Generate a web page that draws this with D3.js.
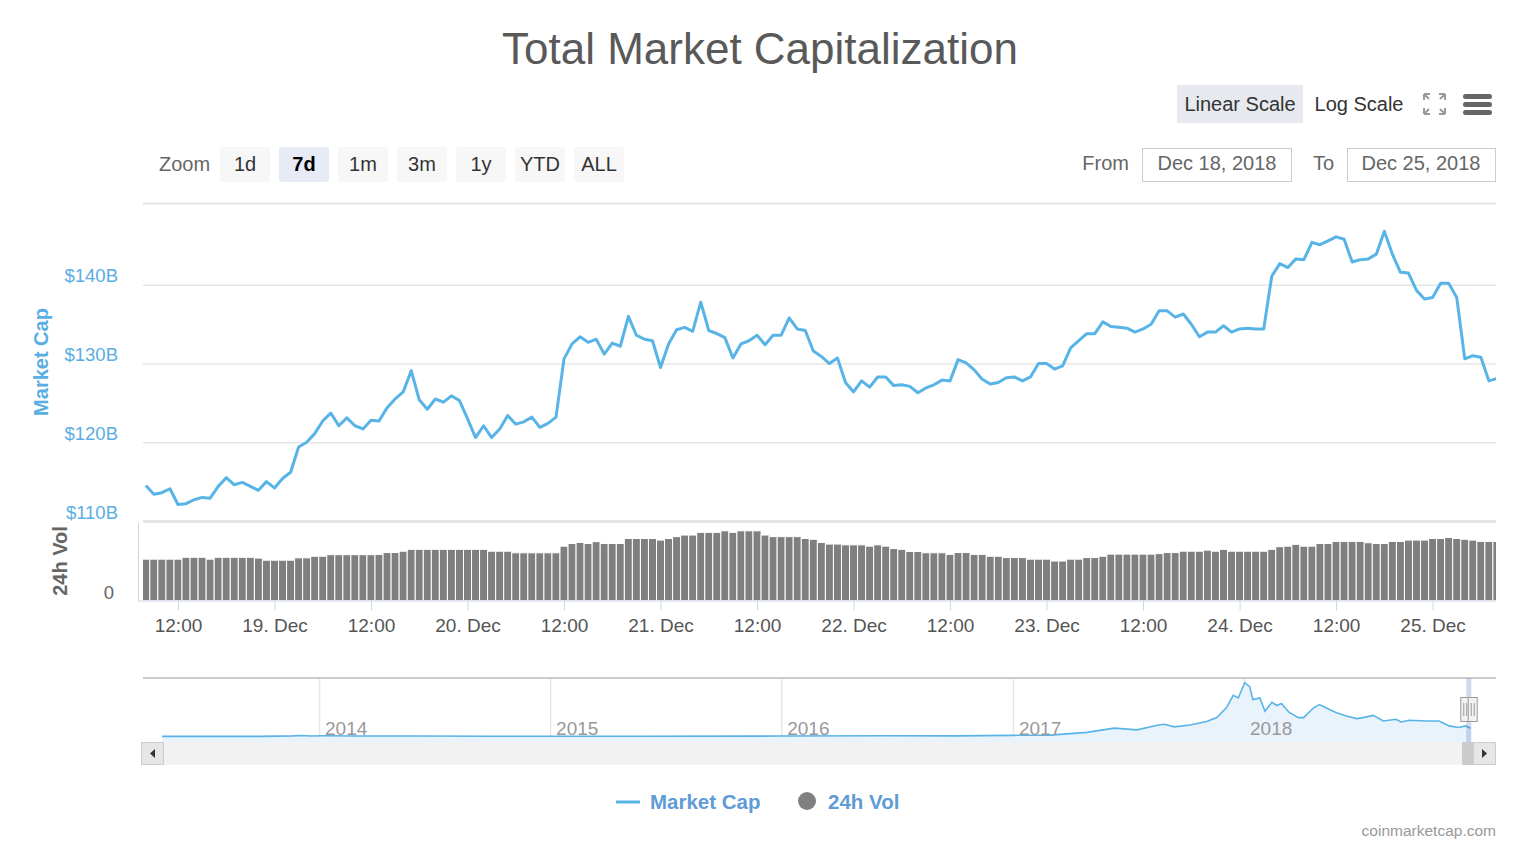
<!DOCTYPE html>
<html>
<head>
<meta charset="utf-8">
<script src="https://cdn.jsdelivr.net/npm/d3@7"></script>
<style>
  body { margin: 0; background: #fff; }
  svg text { font-family: "Liberation Sans", Arial, sans-serif; }
</style>
</head>
<body>
<div id="chart"></div>
<script>
// hourly series, first point Dec 18 2018 08:00 UTC
const seriesStart = Date.UTC(2018, 11, 18, 8);

// market cap, $B
const marketCap = [
  114.5, 113.4, 113.6, 114.1, 112.1, 112.2, 112.7, 113.0, 112.9, 114.4,
  115.5, 114.6, 114.9, 114.4, 113.9, 115.0, 114.2, 115.4, 116.2, 119.4,
  120.0, 121.1, 122.7, 123.7, 122.1, 123.1, 122.1, 121.7, 122.8, 122.7,
  124.4, 125.5, 126.4, 129.1, 125.4, 124.2, 125.5, 125.1, 125.9, 125.3,
  123.0, 120.6, 122.1, 120.6, 121.7, 123.4, 122.3, 122.6, 123.2, 121.9,
  122.4, 123.2, 130.6, 132.5, 133.4, 132.7, 133.1, 131.2, 132.6, 132.2,
  136.0, 133.6, 133.1, 132.9, 129.5, 132.5, 134.3, 134.6, 134.1, 137.8,
  134.2, 133.8, 133.3, 130.7, 132.5, 132.9, 133.6, 132.4, 133.6, 133.6,
  135.8, 134.4, 134.2, 131.6, 130.9, 130.0, 130.7, 127.6, 126.4, 127.8,
  127.0, 128.3, 128.3, 127.2, 127.3, 127.1, 126.3, 126.9, 127.3, 127.9,
  127.8, 130.5, 130.1, 129.2, 128.0, 127.4, 127.6, 128.2, 128.3, 127.8,
  128.3, 130.0, 130.0, 129.3, 129.7, 132.0, 132.9, 133.8, 133.8, 135.3,
  134.7, 134.6, 134.5, 134.0, 134.4, 135.0, 136.7, 136.7, 135.9, 136.3,
  135.0, 133.4, 134.0, 134.0, 134.8, 134.0, 134.4, 134.5, 134.4, 134.4,
  141.1, 142.7, 142.2, 143.3, 143.2, 145.4, 145.1, 145.6, 146.1, 145.8,
  142.9, 143.2, 143.3, 143.9, 146.8, 143.9, 141.6, 141.5, 139.3, 138.2,
  138.4, 140.2, 140.2, 138.4, 130.6, 131.0, 130.8, 127.8, 128.1
];

// 24h volume, $B
const volume24h = [
  15.6, 15.6, 15.6, 15.6, 15.6, 16.3, 16.3, 16.3, 15.6, 16.3,
  16.3, 16.3, 16.3, 16.3, 16.0, 15.2, 15.2, 15.2, 15.2, 16.1,
  16.1, 16.7, 16.7, 17.3, 17.3, 17.3, 17.3, 17.3, 17.3, 17.4,
  18.1, 18.1, 18.6, 19.3, 19.3, 19.3, 19.3, 19.3, 19.3, 19.3,
  19.3, 19.3, 19.3, 18.6, 18.6, 18.6, 18.0, 18.0, 18.0, 18.0,
  18.0, 18.0, 20.5, 21.5, 21.9, 21.5, 22.2, 21.5, 21.5, 21.5,
  23.4, 23.4, 23.4, 23.4, 22.8, 23.4, 24.1, 24.7, 24.7, 25.7,
  25.7, 25.7, 26.3, 25.7, 26.3, 26.3, 26.3, 24.7, 24.1, 24.1,
  24.1, 24.1, 23.4, 23.1, 21.9, 21.3, 21.3, 21.0, 21.0, 21.0,
  20.5, 21.0, 20.5, 19.6, 19.3, 18.5, 18.5, 18.0, 18.0, 18.0,
  17.4, 18.1, 18.1, 17.4, 17.4, 16.7, 16.7, 16.2, 16.2, 16.2,
  15.6, 15.6, 15.6, 14.9, 14.9, 15.6, 15.6, 16.2, 16.2, 16.7,
  17.5, 17.5, 17.5, 17.5, 17.5, 17.5, 17.7, 18.1, 18.1, 18.6,
  18.6, 18.6, 19.0, 18.6, 19.3, 18.6, 18.6, 18.6, 18.6, 18.6,
  19.3, 20.3, 20.5, 21.2, 20.5, 20.5, 21.5, 21.5, 22.3, 22.3,
  22.3, 22.3, 21.8, 21.5, 21.5, 22.3, 22.3, 22.8, 22.8, 22.8,
  23.4, 23.4, 23.8, 23.4, 23.1, 22.8, 22.3, 22.3, 22.3
];

const capTicks = [110, 120, 130, 140];

// navigator history (whole range), $B
const navDates = [
  "2013-04-28", "2013-10-01", "2013-11-20", "2013-12-04", "2013-12-20",
  "2014-01-10", "2014-03-01", "2014-06-01", "2014-10-01", "2015-01-15",
  "2015-06-01", "2015-11-05", "2016-01-01", "2016-06-15", "2016-10-01",
  "2017-01-01", "2017-03-01", "2017-04-28", "2017-06-10", "2017-07-16",
  "2017-08-17", "2017-08-28", "2017-09-13", "2017-10-08", "2017-11-03",
  "2017-11-19", "2017-12-04", "2017-12-15", "2017-12-23", "2018-01-02",
  "2018-01-10", "2018-01-15", "2018-01-26", "2018-02-03", "2018-02-14",
  "2018-02-22", "2018-03-01", "2018-03-13", "2018-03-28", "2018-04-05",
  "2018-04-21", "2018-04-30", "2018-05-16", "2018-05-27", "2018-06-12",
  "2018-06-28", "2018-07-08", "2018-07-24", "2018-08-09", "2018-08-29",
  "2018-09-06", "2018-09-19", "2018-10-16", "2018-11-05", "2018-11-21",
  "2018-12-06", "2018-12-17", "2018-12-25"
];
const navValues = [
  1.5, 2, 9, 15, 8,
  11, 8, 8, 5, 3,
  3.3, 6, 7, 12, 10,
  18, 22, 64, 130, 104,
  176, 191, 150, 180, 233,
  294, 447, 640, 600, 838,
  777, 574, 600, 395, 532,
  482, 513, 379, 294, 294,
  447, 497, 421, 370, 318,
  278, 294, 329, 242, 268,
  226, 252, 242, 242, 165,
  141, 165, 128
];

const zoomButtons = ["1d", "7d", "1m", "3m", "1y", "YTD", "ALL"];
const selectedZoom = "7d";
const fromLabel = "Dec 18, 2018";
const toLabel = "Dec 25, 2018";

const W = 1516, H = 848;
const plotLeft = 143, plotRight = 1496, plotTop = 203;
const capBottom = 521, volBottom = 600.5;
const navTop = 678, navBottom = 742;
const lineColor = "#58b4e6";

const hour = 3600 * 1000;
const capData = marketCap.map((v, i) => ({ date: new Date(seriesStart + i * hour), value: v }));
const volData = volume24h.map((v, i) => ({ date: new Date(seriesStart + i * hour), value: v }));
const navData = navDates.map((d, i) => ({ date: new Date(d + "T00:00:00Z"), value: navValues[i] }));

const svg = d3.select("#chart").append("svg")
  .attr("width", W).attr("height", H);

const x = d3.scaleUtc()
  .domain([new Date(Date.UTC(2018, 11, 18, 7, 39)), new Date(Date.UTC(2018, 11, 25, 7, 53))])
  .range([plotLeft, plotRight]);
const yCap = d3.scaleLinear().domain([110, 150.4]).range([capBottom, plotTop]);
const yVol = d3.scaleLinear().domain([0, 30]).range([volBottom, capBottom]);

// title
svg.append("text")
  .attr("x", 760).attr("y", 64)
  .attr("text-anchor", "middle")
  .attr("font-size", 44).attr("fill", "#595959")
  .text("Total Market Capitalization");

// scale buttons + icons
svg.append("rect").attr("x", 1177).attr("y", 85).attr("width", 126).attr("height", 38)
  .attr("rx", 2).attr("fill", "#e6e9ee");
svg.append("text").attr("x", 1240).attr("y", 111).attr("text-anchor", "middle")
  .attr("font-size", 20).attr("fill", "#333").text("Linear Scale");
svg.append("text").attr("x", 1359).attr("y", 111).attr("text-anchor", "middle")
  .attr("font-size", 20).attr("fill", "#333").text("Log Scale");

const fs = svg.append("g").attr("stroke", "#9a9a9a").attr("stroke-width", 2).attr("fill", "none");
fs.append("path").attr("d", "M1424,94 L1430,94 M1424,94 L1424,100 M1424,94 L1429,99");
fs.append("path").attr("d", "M1445,94 L1439,94 M1445,94 L1445,100 M1445,94 L1440,99");
fs.append("path").attr("d", "M1424,114 L1430,114 M1424,114 L1424,108 M1424,114 L1429,109");
fs.append("path").attr("d", "M1445,114 L1439,114 M1445,114 L1445,108 M1445,114 L1440,109");

svg.append("g").selectAll("rect").data([94, 102, 110]).join("rect")
  .attr("x", 1463).attr("y", d => d).attr("width", 29).attr("height", 5)
  .attr("rx", 2.5).attr("fill", "#666");

// zoom buttons
svg.append("text").attr("x", 159).attr("y", 171)
  .attr("font-size", 20).attr("fill", "#666").text("Zoom");
const zb = svg.append("g").selectAll("g").data(zoomButtons).join("g")
  .attr("transform", (d, i) => `translate(${220 + i * 59},147)`);
zb.append("rect").attr("width", 50).attr("height", 35).attr("rx", 2)
  .attr("fill", d => d === selectedZoom ? "#e6ebf5" : "#f7f7f7");
zb.append("text").attr("x", 25).attr("y", 24).attr("text-anchor", "middle")
  .attr("font-size", 20)
  .attr("font-weight", d => d === selectedZoom ? "bold" : "normal")
  .attr("fill", d => d === selectedZoom ? "#000" : "#333")
  .text(d => d);

// range inputs
svg.append("text").attr("x", 1129).attr("y", 170).attr("text-anchor", "end")
  .attr("font-size", 20).attr("fill", "#666").text("From");
svg.append("rect").attr("x", 1142.5).attr("y", 148.5).attr("width", 149).attr("height", 33)
  .attr("fill", "#fff").attr("stroke", "#ccc");
svg.append("text").attr("x", 1217).attr("y", 170).attr("text-anchor", "middle")
  .attr("font-size", 20).attr("fill", "#666").text(fromLabel);
svg.append("text").attr("x", 1334).attr("y", 170).attr("text-anchor", "end")
  .attr("font-size", 20).attr("fill", "#666").text("To");
svg.append("rect").attr("x", 1347.5).attr("y", 148.5).attr("width", 148).attr("height", 33)
  .attr("fill", "#fff").attr("stroke", "#ccc");
svg.append("text").attr("x", 1421).attr("y", 170).attr("text-anchor", "middle")
  .attr("font-size", 20).attr("fill", "#666").text(toLabel);

// top border of plot
svg.append("line").attr("x1", plotLeft).attr("x2", plotRight)
  .attr("y1", plotTop + 0.5).attr("y2", plotTop + 0.5)
  .attr("stroke", "#e6e6e6").attr("stroke-width", 2);

// gridlines
svg.append("g")
  .attr("transform", `translate(${plotLeft},0)`)
  .call(d3.axisLeft(yCap).tickValues(capTicks).tickSize(-(plotRight - plotLeft)).tickFormat(""))
  .call(g => g.select(".domain").remove())
  .call(g => g.selectAll("line").attr("stroke", "#e6e6e6").attr("stroke-width", d => d === 110 ? 3 : 1.5));

// y labels
svg.append("g")
  .attr("transform", `translate(${plotLeft},0)`)
  .call(d3.axisLeft(yCap).tickValues(capTicks).tickSize(0).tickPadding(25).tickFormat(d => `$${d}B`))
  .call(g => g.select(".domain").remove())
  .call(g => g.selectAll("text").attr("dy", "-3px").attr("font-size", 18.5)
    .attr("fill", "#5aaee3").attr("font-family", null));

svg.append("text")
  .attr("transform", "translate(48,362) rotate(-90)")
  .attr("text-anchor", "middle").attr("font-size", 20).attr("font-weight", "bold")
  .attr("fill", "#5aaee3").text("Market Cap");

// volume bars
const barW = x(new Date(seriesStart + hour)) - x(new Date(seriesStart));
svg.append("clipPath").attr("id", "clip")
  .append("rect").attr("x", plotLeft).attr("y", plotTop)
  .attr("width", plotRight - plotLeft).attr("height", volBottom - plotTop);

svg.append("g").attr("clip-path", "url(#clip)")
  .selectAll("rect").data(volData).join("rect")
  .attr("x", d => x(d.date) - barW / 2)
  .attr("y", d => yVol(d.value))
  .attr("width", barW)
  .attr("height", d => volBottom - yVol(d.value))
  .attr("fill", "#7f7f7f")
  .attr("stroke", "#fff").attr("stroke-width", 1);

// volume axis
svg.append("line").attr("x1", 138.5).attr("x2", 138.5).attr("y1", 523).attr("y2", volBottom)
  .attr("stroke", "#ccd6eb");
svg.append("g")
  .attr("transform", "translate(138,0)")
  .call(d3.axisLeft(yVol).tickValues([0]).tickSize(0).tickPadding(24))
  .call(g => g.select(".domain").remove())
  .call(g => g.selectAll("text").attr("dy", "-2px").attr("font-size", 18.5)
    .attr("fill", "#666").attr("font-family", null));

svg.append("text")
  .attr("transform", "translate(67,561) rotate(-90)")
  .attr("text-anchor", "middle").attr("font-size", 20).attr("font-weight", "bold")
  .attr("fill", "#666").text("24h Vol");

// market cap line
const line = d3.line().x(d => x(d.date)).y(d => yCap(d.value));
svg.append("path").datum(capData)
  .attr("clip-path", "url(#clip)")
  .attr("fill", "none").attr("stroke", lineColor)
  .attr("stroke-width", 3).attr("stroke-linejoin", "round")
  .attr("d", line);

// x axis
const fmtDay = d3.utcFormat("%-d. %b"), fmtHour = d3.utcFormat("%H:%M");
svg.append("g")
  .attr("transform", `translate(0,${volBottom})`)
  .call(d3.axisBottom(x).ticks(d3.utcHour.every(12)).tickSize(10).tickPadding(8)
    .tickFormat(d => d.getUTCHours() === 0 ? fmtDay(d) : fmtHour(d)))
  .call(g => g.select(".domain").attr("stroke", "#ccd6eb").attr("d", `M138,0.5H${plotRight}`))
  .call(g => g.selectAll(".tick line").attr("stroke", "#ccd6eb"))
  .call(g => g.selectAll("text").attr("font-size", 19).attr("fill", "#555").attr("font-family", null));

// navigator
const navX = d3.scaleUtc()
  .domain([new Date("2013-04-28T00:00:00Z"), new Date("2018-12-25T00:00:00Z")])
  .range([162, 1470.7]);
const navY = d3.scaleLinear().domain([0, 850]).range([736.5, 681.9]);

svg.append("g")
  .attr("transform", `translate(0,${navBottom})`)
  .call(d3.axisBottom(navX).ticks(d3.utcYear.every(1)).tickSize(-(navBottom - navTop)).tickFormat(""))
  .call(g => g.select(".domain").remove())
  .call(g => g.selectAll("line").attr("stroke", "#e6e6e6").attr("stroke-width", 1.5));

svg.append("path").datum(navData)
  .attr("fill", "#e9f3fc")
  .attr("d", d3.area().x(d => navX(d.date)).y0(navBottom).y1(d => navY(d.value)));
svg.append("path").datum(navData)
  .attr("fill", "none").attr("stroke", lineColor).attr("stroke-width", 1.6)
  .attr("d", d3.line().x(d => navX(d.date)).y(d => navY(d.value)));

svg.append("g").selectAll("text").data(navX.ticks(d3.utcYear.every(1))).join("text")
  .attr("x", d => navX(d) + 6).attr("y", 735)
  .attr("font-size", 19).attr("fill", "#999")
  .text(d => d.getUTCFullYear());

svg.append("line").attr("x1", plotLeft).attr("x2", plotRight)
  .attr("y1", navTop).attr("y2", navTop)
  .attr("stroke", "#cccccc").attr("stroke-width", 2);

// scrollbar
svg.append("rect").attr("x", 141).attr("y", navBottom).attr("width", 1355).attr("height", 23)
  .attr("fill", "#f2f2f2");
svg.append("rect").attr("x", 141.5).attr("y", navBottom + 0.5).attr("width", 22).attr("height", 22)
  .attr("fill", "#e6e6e6").attr("stroke", "#cccccc");
svg.append("path").attr("d", "M155,749 L150,753.5 L155,758 Z").attr("fill", "#333");
svg.append("rect").attr("x", 1473.5).attr("y", navBottom + 0.5).attr("width", 22).attr("height", 22)
  .attr("fill", "#e6e6e6").attr("stroke", "#cccccc");
svg.append("path").attr("d", "M1482,749 L1487,753.5 L1482,758 Z").attr("fill", "#333");
svg.append("rect").attr("x", 1462).attr("y", navBottom).attr("width", 11).attr("height", 23)
  .attr("fill", "#cccccc");

// selected range mask + handles
const selX0 = navX(new Date("2018-12-18T00:00:00Z")), selX1 = navX(new Date("2018-12-25T00:00:00Z"));
svg.append("rect").attr("x", selX0).attr("y", navTop).attr("width", Math.max(selX1 - selX0, 5))
  .attr("height", navBottom - navTop).attr("fill", "rgba(102,133,194,0.3)");
const handles = svg.append("g");
[selX0 - 6, selX1 - 3].forEach(hx => {
  handles.append("rect").attr("x", hx + 0.5).attr("y", 697.5).attr("width", 9).attr("height", 24)
    .attr("fill", "#f2f2f2").attr("stroke", "#999");
  handles.append("path").attr("d", `M${hx + 3.5},703V716M${hx + 6.5},703V716`)
    .attr("stroke", "#999").attr("stroke-width", 1);
});

// legend
svg.append("line").attr("x1", 616).attr("x2", 640).attr("y1", 802).attr("y2", 802)
  .attr("stroke", lineColor).attr("stroke-width", 3);
svg.append("text").attr("x", 650).attr("y", 809)
  .attr("font-size", 20.5).attr("font-weight", "bold").attr("fill", "#5f9bd5").text("Market Cap");
svg.append("circle").attr("cx", 807).attr("cy", 801).attr("r", 9).attr("fill", "#808080");
svg.append("text").attr("x", 828).attr("y", 809)
  .attr("font-size", 20.5).attr("font-weight", "bold").attr("fill", "#5f9bd5").text("24h Vol");

// credits
svg.append("text").attr("x", 1496).attr("y", 836).attr("text-anchor", "end")
  .attr("font-size", 15.5).attr("fill", "#999").text("coinmarketcap.com");
</script>
</body>
</html>
